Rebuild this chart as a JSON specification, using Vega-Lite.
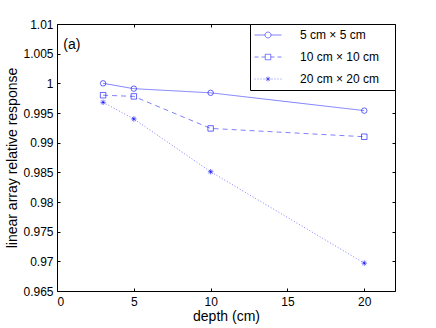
{
  "$schema": "https://vega.github.io/schema/vega-lite/v6.json",
  "width": 338,
  "height": 267,
  "autosize": "none",
  "padding": {"left": 57, "top": 24, "right": 41, "bottom": 37},
  "background": "white",
  "data": {
    "values": [
      {"depth": 3, "response": 1.0000, "series": "5 cm × 5 cm"},
      {"depth": 5, "response": 0.9991, "series": "5 cm × 5 cm"},
      {"depth": 10, "response": 0.9984, "series": "5 cm × 5 cm"},
      {"depth": 20, "response": 0.9954, "series": "5 cm × 5 cm"},
      {"depth": 3, "response": 0.9980, "series": "10 cm × 10 cm"},
      {"depth": 5, "response": 0.9978, "series": "10 cm × 10 cm"},
      {"depth": 10, "response": 0.9924, "series": "10 cm × 10 cm"},
      {"depth": 20, "response": 0.9910, "series": "10 cm × 10 cm"},
      {"depth": 3, "response": 0.9968, "series": "20 cm × 20 cm"},
      {"depth": 5, "response": 0.9940, "series": "20 cm × 20 cm"},
      {"depth": 10, "response": 0.9851, "series": "20 cm × 20 cm"},
      {"depth": 20, "response": 0.9697, "series": "20 cm × 20 cm"}
    ]
  },
  "layer": [
    {
      "mark": {"type": "line", "stroke": "#0000ff", "strokeWidth": 0.5},
      "encoding": {
        "x": {"field": "depth", "type": "quantitative", "scale": {"domain": [0, 22], "nice": false, "zero": false},
              "axis": {"orient": "bottom", "values": [0, 5, 10, 15, 20], "title": "depth (cm)", "labelPadding": 8, "titlePadding": 2}},
        "y": {"field": "response", "type": "quantitative", "scale": {"domain": [0.965, 1.01], "nice": false, "zero": false},
              "axis": {"orient": "left", "values": [0.965, 0.97, 0.975, 0.98, 0.985, 0.99, 0.995, 1, 1.005, 1.01], "format": "~f", "title": "linear array relative response", "labelPadding": 7, "titlePadding": 3}},
        "strokeDash": {
          "field": "series", "type": "nominal",
          "scale": {"domain": ["10 cm × 10 cm", "5 cm × 5 cm", "20 cm × 20 cm"], "range": [[5, 4], [1, 0], [1, 2]]},
          "legend": null
        }
      }
    },
    {
      "mark": {"type": "point", "filled": false, "stroke": "#0000ff", "strokeWidth": 0.6, "size": 30, "opacity": 1},
      "encoding": {
        "x": {"field": "depth", "type": "quantitative", "scale": {"domain": [0, 22], "nice": false, "zero": false},
              "axis": {"orient": "top", "values": [0, 5, 10, 15, 20], "labels": false, "title": null}},
        "y": {"field": "response", "type": "quantitative", "scale": {"domain": [0.965, 1.01], "nice": false, "zero": false},
              "axis": {"orient": "right", "values": [0.965, 0.97, 0.975, 0.98, 0.985, 0.99, 0.995, 1, 1.005, 1.01], "labels": false, "title": null}},
        "shape": {
          "field": "series", "type": "nominal",
          "scale": {"domain": ["20 cm × 20 cm", "10 cm × 10 cm", "5 cm × 5 cm"], "range": ["M-1,0L1,0M0,-1L0,1M-0.7,-0.7L0.7,0.7M-0.7,0.7L0.7,-0.7", "square", "circle"]},
          "legend": null
        }
      }
    },
    {
      "mark": {"type": "point", "filled": false, "stroke": "#0000ff", "strokeWidth": 0.5, "size": 30, "opacity": 0},
      "encoding": {
        "x": {"field": "depth", "type": "quantitative", "scale": {"domain": [0, 22], "nice": false, "zero": false}, "axis": null},
        "y": {"field": "response", "type": "quantitative", "scale": {"domain": [0.965, 1.01], "nice": false, "zero": false}, "axis": null},
        "shape": {
          "field": "series", "type": "nominal",
          "scale": {"domain": ["5 cm × 5 cm", "10 cm × 10 cm", "20 cm × 20 cm"],
                    "range": [
                      "M-2.7,0L-0.6,0M0.6,0L2.7,0M-0.6,0A0.6,0.6,0,1,1,0.6,0A0.6,0.6,0,1,1,-0.6,0",
                      "M-2.7,0L-1.9,0M-1.3,0L-0.55,0M0.55,0L1.3,0M1.9,0L2.7,0M-0.55,-0.55L0.55,-0.55L0.55,0.55L-0.55,0.55Z",
                      "M-2.7,0L-2.5,0M-2.1,0L-1.9,0M-1.5,0L-1.3,0M-0.9,0L-0.7,0M0.7,0L0.9,0M1.3,0L1.5,0M1.9,0L2.1,0M2.5,0L2.7,0M-0.5,0L0.5,0M0,-0.5L0,0.5M-0.35,-0.35L0.35,0.35M-0.35,0.35L0.35,-0.35"
                    ]},
          "legend": {
            "title": null, "orient": "top-right", "offset": 0, "padding": 5,
            "strokeColor": "#000000", "fillColor": "#ffffff",
            "symbolSize": 100, "symbolStrokeWidth": 0.5, "symbolStrokeColor": "#0000ff", "symbolFillColor": "transparent", "symbolOpacity": 1,
            "symbolOffset": 7, "labelOffset": 26, "rowPadding": 10,
            "labelFont": "Liberation Sans", "labelFontSize": 12, "labelColor": "#000000",
            "labelExpr": "datum.label + '   \u200b'"
          }
        }
      }
    },
    {
      "data": {"values": [{"x": 0.41, "y": 1.0065, "t": "(a)"}]},
      "mark": {"type": "text", "align": "left", "baseline": "middle", "fontSize": 14, "font": "Liberation Sans", "color": "#000000"},
      "encoding": {
        "x": {"field": "x", "type": "quantitative", "scale": {"domain": [0, 22], "nice": false, "zero": false}, "axis": null},
        "y": {"field": "y", "type": "quantitative", "scale": {"domain": [0.965, 1.01], "nice": false, "zero": false}, "axis": null},
        "text": {"field": "t"}
      }
    }
  ],
  "resolve": {"axis": {"x": "independent", "y": "independent"}, "scale": {"shape": "independent"}},
  "config": {
    "view": {"stroke": null},
    "font": "Liberation Sans",
    "axis": {
      "grid": false, "domainColor": "#000000", "tickColor": "#000000", "labelColor": "#000000", "titleColor": "#000000",
      "labelFont": "Liberation Sans", "labelFontSize": 12, "titleFont": "Liberation Sans", "titleFontSize": 14,
      "titleFontWeight": "normal", "tickSize": -3, "domainWidth": 1, "tickWidth": 1
    }
  }
}
